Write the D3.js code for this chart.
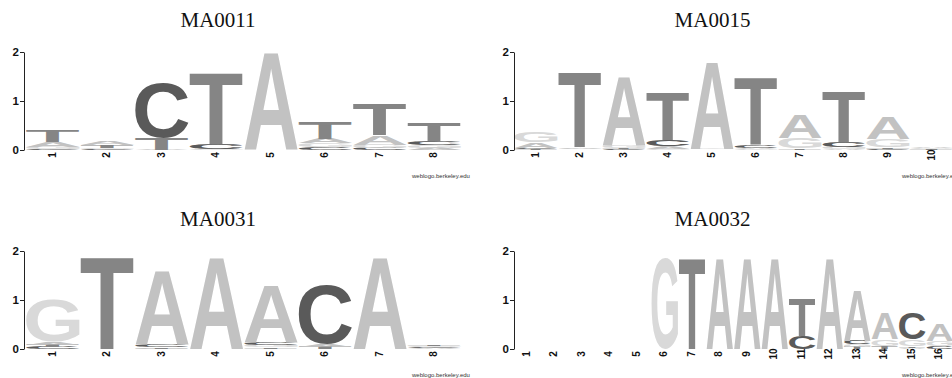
<!DOCTYPE html>
<html>
<head>
<meta charset="utf-8">
<script src="https://cdn.jsdelivr.net/npm/d3@7"></script>
<style>
  body { margin: 0; background: #fff; }
  svg { display: block; }
</style>
</head>
<body>
<svg id="chart" width="952" height="378"></svg>
<script>
// Information content (bits) of each base at each motif position.
const ma0011Pos = ["1", "2", "3", "4", "5", "6", "7", "8"];
const ma0011A = [0.10, 0.08, 0.01, 0.00, 1.99, 0.09, 0.19, 0.05];
const ma0011C = [0.03, 0.02, 1.13, 0.10, 0.00, 0.06, 0.04, 0.08];
const ma0011G = [0.04, 0.03, 0.00, 0.02, 0.00, 0.08, 0.07, 0.06];
const ma0011T = [0.24, 0.05, 0.23, 1.46, 0.00, 0.33, 0.64, 0.37];

const ma0015Pos = ["1", "2", "3", "4", "5", "6", "7", "8", "9", "10"];
const ma0015A = [0.11, 0.03, 1.41, 0.04, 1.77, 0.03, 0.48, 0.02, 0.45, 0.020];
const ma0015C = [0.03, 0.01, 0.02, 0.14, 0.01, 0.06, 0.01, 0.11, 0.03, 0.010];
const ma0015G = [0.20, 0.02, 0.06, 0.03, 0.02, 0.02, 0.22, 0.04, 0.16, 0.015];
const ma0015T = [0.02, 1.54, 0.02, 0.97, 0.00, 1.37, 0.02, 1.02, 0.03, 0.010];

const ma0031Pos = ["1", "2", "3", "4", "5", "6", "7", "8"];
const ma0031A = [0.06, 0.00, 1.52, 1.88, 1.17, 0.06, 1.88, 0.02];
const ma0031C = [0.04, 0.00, 0.05, 0.00, 0.06, 1.20, 0.00, 0.02];
const ma0031G = [0.87, 0.00, 0.01, 0.00, 0.05, 0.00, 0.00, 0.02];
const ma0031T = [0.05, 1.88, 0.02, 0.00, 0.03, 0.05, 0.00, 0.02];

const ma0032Pos = ["1", "2", "3", "4", "5", "6", "7", "8", "9", "10", "11", "12", "13", "14", "15", "16"];
const ma0032A = [0, 0, 0, 0, 0, 0.00, 0.00, 1.85, 1.85, 1.85, 0.00, 1.85, 1.020, 0.53, 0.03, 0.34];
const ma0032C = [0, 0, 0, 0, 0, 0.00, 0.00, 0.00, 0.00, 0.00, 0.27, 0.00, 0.065, 0.00, 0.54, 0.06];
const ma0032G = [0, 0, 0, 0, 0, 1.85, 0.00, 0.00, 0.00, 0.00, 0.00, 0.00, 0.060, 0.14, 0.13, 0.11];
const ma0032T = [0, 0, 0, 0, 0, 0.00, 1.85, 0.00, 0.00, 0.00, 0.77, 0.00, 0.045, 0.06, 0.03, 0.00];

const yTicks = [0, 1, 2];

// Grayscale colour per base
const baseColor = { A: "#c2c2c2", C: "#5a5a5a", G: "#d9d9d9", T: "#858585" };

// Panel layout
const panels = [
  { title: "MA0011", pos: ma0011Pos, A: ma0011A, C: ma0011C, G: ma0011G, T: ma0011T,
    x0: 25.75, x1: 461.75, axisX: 24, base: 150, titleX: 218, creditX: 412 },
  { title: "MA0015", pos: ma0015Pos, A: ma0015A, C: ma0015C, G: ma0015G, T: ma0015T,
    x0: 514, x1: 954, axisX: 514, base: 150, titleX: 712.5, creditX: 902 },
  { title: "MA0031", pos: ma0031Pos, A: ma0031A, C: ma0031C, G: ma0031G, T: ma0031T,
    x0: 25.75, x1: 461.75, axisX: 24, base: 349, titleX: 218, creditX: 412 },
  { title: "MA0032", pos: ma0032Pos, A: ma0032A, C: ma0032C, G: ma0032G, T: ma0032T,
    x0: 513.5, x1: 953.5, axisX: 514, base: 349, titleX: 712.5, creditX: 902 }
];

const bitPx = 49;                 // pixels per bit
const sansFamily = "'Liberation Sans', Arial, Helvetica, sans-serif";

// Ink bounds of each letter glyph, used to stretch a letter into its box
const measureCtx = document.createElement("canvas").getContext("2d");
measureCtx.font = "bold 100px " + sansFamily;
const inkCache = {};
function ink(ch) {
  if (inkCache[ch]) return inkCache[ch];
  const m = measureCtx.measureText(ch);
  let b;
  if (m.actualBoundingBoxAscent !== undefined) {
    b = { l: m.actualBoundingBoxLeft, r: m.actualBoundingBoxRight,
          a: m.actualBoundingBoxAscent, d: m.actualBoundingBoxDescent };
  } else {
    b = { l: 0, r: m.width, a: 72, d: 0 };
  }
  inkCache[ch] = b;
  return b;
}

const svg = d3.select("#chart");

panels.forEach(p => {
  const g = svg.append("g");

  const x = d3.scaleBand().domain(p.pos).range([p.x0, p.x1]).paddingInner(0).paddingOuter(0);
  const y = d3.scaleLinear().domain([0, 2]).range([p.base, p.base - 2 * bitPx]);

  // Title
  g.append("text")
    .attr("x", p.titleX)
    .attr("y", p.base - 123)
    .attr("text-anchor", "middle")
    .attr("font-family", "'Liberation Serif', 'Times New Roman', serif")
    .attr("font-size", 21)
    .attr("fill", "#111")
    .text(p.title);

  // Letter stacks: smallest at the bottom, largest on top
  p.pos.forEach((pos, i) => {
    const stack = ["A", "C", "G", "T"]
      .map(b => ({ base: b, bits: p[b][i] }))
      .filter(d => d.bits > 0)
      .sort((a, b) => a.bits - b.bits);
    let cum = 0;
    const bx = x(pos) + 0.5;
    const bw = x.bandwidth() - 1;
    stack.forEach(d => {
      const yBottom = y(cum);
      const yTop = y(cum + d.bits);
      cum += d.bits;
      const h = yBottom - yTop;
      const m = ink(d.base);
      const sx = bw / (m.l + m.r);
      const sy = h / (m.a + m.d);
      g.append("text")
        .attr("transform", `translate(${bx},${yTop}) scale(${sx},${sy}) translate(${m.l},${m.a})`)
        .attr("x", 0)
        .attr("y", 0)
        .attr("font-family", sansFamily)
        .attr("font-weight", "bold")
        .attr("font-size", 100)
        .attr("fill", baseColor[d.base])
        .text(d.base);
    });
  });

  // Position numbers, rotated
  p.pos.forEach(pos => {
    const cx = x(pos) + x.bandwidth() / 2 - 1;
    const cy = p.base + 5;
    g.append("text")
      .attr("transform", `translate(${cx},${cy}) rotate(-90)`)
      .attr("text-anchor", "middle")
      .attr("dominant-baseline", "central")
      .attr("font-family", sansFamily)
      .attr("font-weight", "bold")
      .attr("font-size", 10)
      .attr("fill", "#111")
      .text(pos);
  });

  // Bits axis
  const axis = d3.axisLeft(y).tickValues(yTicks).tickFormat(d3.format("d"))
    .tickSize(4).tickSizeOuter(0).tickPadding(1);
  const ag = g.append("g").attr("transform", `translate(${p.axisX},0)`).call(axis);
  ag.select(".domain").attr("stroke", "#222");
  ag.selectAll(".tick line").attr("stroke", "#222");
  ag.selectAll(".tick text")
    .attr("font-family", sansFamily)
    .attr("font-weight", "bold")
    .attr("font-size", 11.5)
    .attr("fill", "#111");

  // Credit line
  g.append("text")
    .attr("x", p.creditX)
    .attr("y", p.base + 28)
    .attr("font-family", sansFamily)
    .attr("font-size", 6)
    .attr("fill", "#333")
    .text("weblogo.berkeley.edu");
});
</script>
</body>
</html>
